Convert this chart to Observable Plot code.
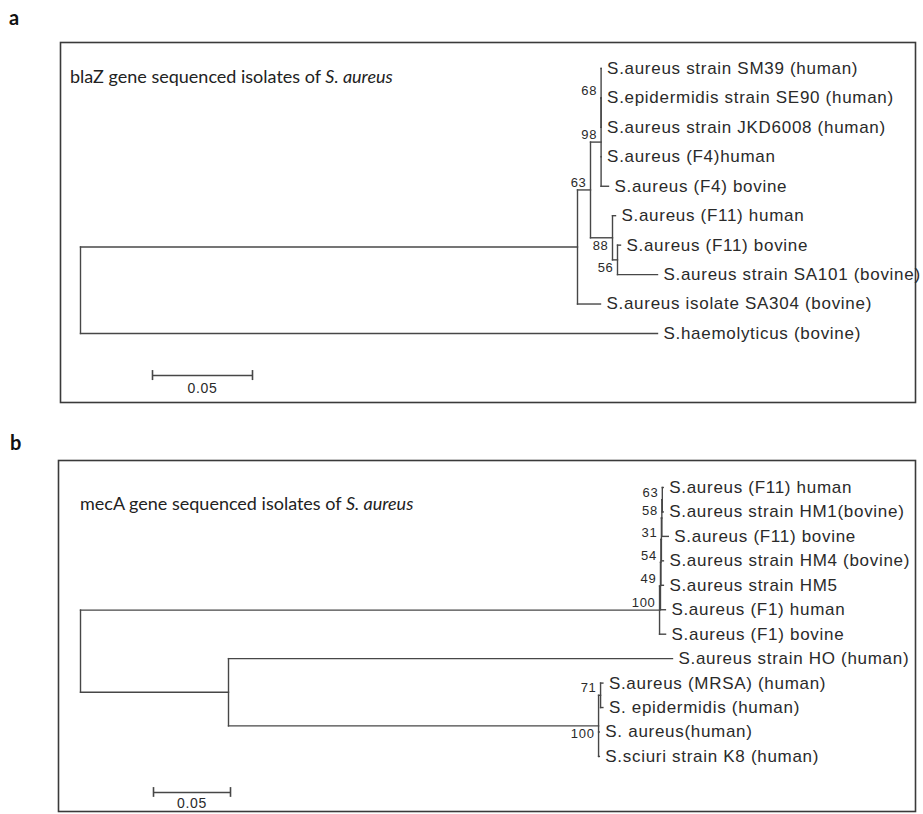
<!DOCTYPE html>
<html><head><meta charset="utf-8">
<script src="https://cdn.jsdelivr.net/npm/d3@7"></script>
<script src="https://cdn.jsdelivr.net/npm/@observablehq/plot@0.6"></script>
<style>
body{margin:0;background:#fff;}
#wrap{position:relative;width:923px;height:814px;overflow:hidden;background:#fff;}
.abs{position:absolute;}
.letter{font-family:"Lato",sans-serif;font-weight:bold;font-size:20px;color:#111;line-height:1;}
.title{font-family:"Lato",sans-serif;font-size:18px;color:#222;line-height:1;white-space:nowrap;}
</style></head><body><div id="wrap"></div>
<script>
// ---------- Panel a: blaZ tree (parent index, branch length, bootstrap) ----------
const treeA_names = [
  "", "", "", "", "",
  "S.aureus strain SM39 (human)",
  "S.epidermidis strain SE90 (human)",
  "S.aureus strain JKD6008 (human)",
  "S.aureus (F4)human",
  "S.aureus (F4) bovine",
  "",
  "S.aureus (F11) human",
  "",
  "S.aureus (F11) bovine",
  "S.aureus strain SA101 (bovine)",
  "S.aureus isolate SA304 (bovine)",
  "S.haemolyticus (bovine)"
];
const treeA_parent  = [-1, 0, 1, 2, 3, 4, 4, 4, 3, 3, 2, 10, 10, 12, 12, 1, 0];
const treeA_length  = [0, 0.2485, 0.0065, 0.0053, 0, 0, 0, 0, 0, 0.0037, 0.011, 0.0015, 0.0025, 0.0015, 0.02, 0.0115, 0.2885];
const treeA_support = ["", "", "63", "98", "68", "", "", "", "", "", "88", "", "56", "", "", "", ""];
const titleA = "blaZ gene sequenced isolates of ";
const scaleA = [{start: 0.036, len: 0.05, row: 10.43, label: "0.05"}];

// ---------- Panel b: mecA tree ----------
const treeB_names = [
  "", "", "", "", "", "", "",
  "S.aureus (F11) human",
  "S.aureus strain HM1(bovine)",
  "S.aureus (F11) bovine",
  "S.aureus strain HM4 (bovine)",
  "S.aureus strain HM5",
  "S.aureus (F1) human",
  "S.aureus (F1) bovine",
  "",
  "S.aureus strain HO (human)",
  "", "",
  "S.aureus (MRSA) (human)",
  "S. epidermidis (human)",
  "S. aureus(human)",
  "S.sciuri strain K8 (human)"
];
const treeB_parent  = [-1, 0, 1, 2, 3, 4, 5, 6, 6, 5, 4, 3, 2, 1, 0, 14, 14, 16, 17, 17, 16, 16];
const treeB_length  = [0, 0.376, 0.0006, 0.0003, 0.0003, 0.0003, 0.0003, 0.0006, 0.0006, 0.0042, 0.0013, 0.0016, 0.0032, 0.0039,
                       0.0961, 0.2883, 0.2403, 0.0013, 0.0015, 0.0015, 0.0005, 0.0005];
const treeB_support = ["", "100", "49", "54", "31", "58", "63", "", "", "", "", "", "", "", "", "", "100", "71", "", "", "", ""];
const titleB = "mecA gene sequenced isolates of ";
const titleItalic = "S. aureus";
const scaleB = [{start: 0.0474, len: 0.05, row: 12.474, label: "0.05"}];

// ---------- layout of a rectangular tree (MEGA style) ----------
function layout(names, parents, lengths, supports) {
  const n = names.length;
  const children = names.map(() => []);
  let root = 0;
  parents.forEach((p, i) => { if (p < 0) root = i; else children[p].push(i); });
  const x = new Array(n), y = new Array(n), first = new Array(n).fill(false);
  let leaf = 0;
  (function walk(i, px) {
    x[i] = px + lengths[i];
    const cs = children[i];
    if (!cs.length) { y[i] = leaf++; return; }
    cs.forEach(c => walk(c, x[i]));
    y[i] = (y[cs[0]] + y[cs[cs.length - 1]]) / 2;
    first[cs[0]] = true;
  })(root, 0);
  const segs = [], leaves = [], bootUp = [], bootDown = [];
  for (let i = 0; i < n; i++) {
    const cs = children[i];
    if (parents[i] >= 0) segs.push({x1: x[parents[i]], x2: x[i], y1: y[i], y2: y[i]});
    if (cs.length) segs.push({x1: x[i], x2: x[i], y1: y[cs[0]], y2: y[cs[cs.length - 1]]});
    else leaves.push({x: x[i], y: y[i], name: names[i]});
    if (supports[i]) (first[i] ? bootUp : bootDown).push({x: x[i], y: y[i], label: supports[i]});
  }
  return {segs, leaves, bootUp, bootDown};
}

function treePlot(t, scale, opts) {
  const lineColor = "#474747";
  const bars = scale.map(s => ({x1: s.start, x2: s.start + s.len, y: s.row}));
  const caps = scale.flatMap(s => [s.start, s.start + s.len].map(v => ({x: v, y1: s.row - opts.cap, y2: s.row + opts.cap})));
  const mids = scale.map(s => ({x: s.start + s.len / 2, y: s.row, label: s.label}));
  return Plot.plot({
    width: 923, height: opts.height,
    marginTop: opts.mt, marginBottom: opts.mb, marginLeft: opts.ml, marginRight: opts.mr,
    x: {domain: opts.xd, axis: null},
    y: {domain: opts.yd, reverse: true, axis: null},
    style: {fontFamily: "'Liberation Sans', Arial, sans-serif", letterSpacing: "0.7px", background: "transparent", color: "#2a2a2a", overflow: "visible"},
    marks: [
      Plot.frame({stroke: "#3a3a3a", strokeWidth: 1.6}),
      Plot.link(t.segs, {x1: "x1", y1: "y1", x2: "x2", y2: "y2", stroke: lineColor, strokeWidth: 1.4, strokeLinecap: "square"}),
      Plot.text(t.leaves, {x: "x", y: "y", text: "name", dx: 6, textAnchor: "start", fontSize: 17, fill: "#2a2a2a"}),
      Plot.text(t.bootUp, {x: "x", y: "y", text: "label", dx: -4, dy: -7, textAnchor: "end", fontSize: 13, fill: "#2a2a2a"}),
      Plot.text(t.bootDown, {x: "x", y: "y", text: "label", dx: -4, dy: 8, textAnchor: "end", fontSize: 13, fill: "#2a2a2a"}),
      Plot.link(bars, {x1: "x1", x2: "x2", y1: "y", y2: "y", stroke: lineColor, strokeWidth: 1.4}),
      Plot.ruleX(caps, {x: "x", y1: "y1", y2: "y2", stroke: lineColor, strokeWidth: 1.6}),
      Plot.text(mids, {x: "x", y: "y", text: "label", dy: opts.labelDy, fontSize: 14, fill: "#2a2a2a"})
    ]
  });
}

const A = layout(treeA_names, treeA_parent, treeA_length, treeA_support);
const B = layout(treeB_names, treeB_parent, treeB_length, treeB_support);

const plotA = treePlot(A, scaleA, {height: 420, mt: 42, mb: 18, ml: 60, mr: 8,
  xd: [-0.01, 0.4175], yd: [-0.883, 11.345], cap: 0.17, labelDy: 13});
const plotB = treePlot(B, scaleB, {height: 394, mt: 40, mb: 3, ml: 58, mr: 8,
  xd: [-0.01429, 0.5422], yd: [-1.104, 13.252], cap: 0.2, labelDy: 11});

const wrap = document.getElementById("wrap");
plotA.classList.add("abs"); plotA.style.left = "0px"; plotA.style.top = "0px";
plotB.classList.add("abs"); plotB.style.left = "0px"; plotB.style.top = "420px";
wrap.appendChild(plotA);
wrap.appendChild(plotB);

function addDiv(cls, left, top, html) {
  const d = document.createElement("div");
  d.className = "abs " + cls;
  d.style.left = left + "px"; d.style.top = top + "px";
  d.innerHTML = html;
  wrap.appendChild(d);
}
addDiv("letter", 9, 7, "a");
addDiv("letter", 10, 432, "b");
addDiv("title", 70, 67, titleA + "<i>" + titleItalic + "</i>");
addDiv("title", 80, 494, titleB + "<i>" + titleItalic + "</i>");
</script></body></html>
